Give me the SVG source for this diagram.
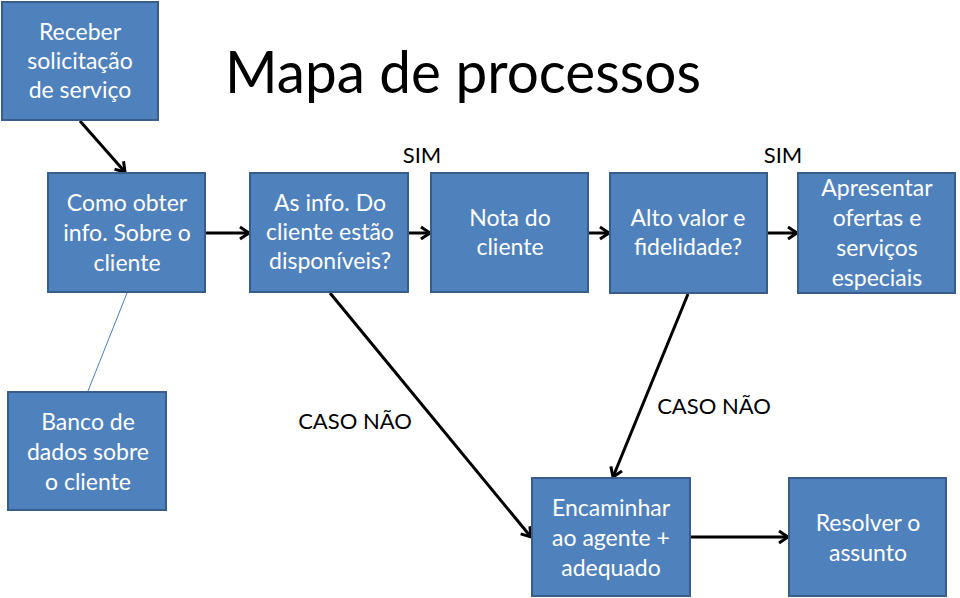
<svg xmlns="http://www.w3.org/2000/svg" width="960" height="598" viewBox="0 0 960 598">
<defs>
<style>
.box{fill:#4F81BD;stroke:#385D8A;stroke-width:2}
.bt{font-family:Lato,"Open Sans",sans-serif;font-size:23px;fill:#FFFFFF;text-anchor:middle}
.lbl{font-family:Lato,"Open Sans",sans-serif;font-size:22px;fill:#000000;text-anchor:middle}
.title{font-family:Lato,"Open Sans",sans-serif;font-size:58px;fill:#000000}
.conn{stroke:#000000;stroke-width:3;fill:none;marker-end:url(#arr)}
.thin{stroke:#4A7EBB;stroke-width:1;fill:none}
</style>
<marker id="arr" markerUnits="userSpaceOnUse" markerWidth="16" markerHeight="16" refX="12" refY="8" orient="auto">
<path d="M3,2 L12,8 L3,14" fill="none" stroke="#000000" stroke-width="3"/>
</marker>
</defs>
<rect width="960" height="598" fill="#FFFFFF"/>
<text class="title" x="225" y="93" textLength="476" lengthAdjust="spacingAndGlyphs">Mapa de processos</text>

<g id="connectors">
<line class="conn" x1="80" y1="121" x2="125" y2="172"/>
<line class="conn" x1="206" y1="233" x2="249" y2="233"/>
<line class="conn" x1="409" y1="233" x2="430" y2="233"/>
<line class="conn" x1="589" y1="233" x2="609" y2="233"/>
<line class="conn" x1="768" y1="233" x2="797" y2="233"/>
<line class="thin" x1="127" y1="293" x2="88" y2="391"/>
<line class="conn" x1="330" y1="293" x2="531" y2="537"/>
<line class="conn" x1="688" y1="294" x2="613" y2="477"/>
<line class="conn" x1="691" y1="537" x2="788" y2="537"/>
<text class="lbl" x="422" y="163">SIM</text>
<text class="lbl" x="783" y="163">SIM</text>
<text class="lbl" x="355" y="429">CASO NÃO</text>
<text class="lbl" x="714" y="414">CASO NÃO</text>
</g>

<g id="n1"><rect class="box" x="2" y="2" width="156" height="118"/>
<text class="bt" x="80" y="40">Receber</text><text class="bt" x="80" y="69">solicitação</text><text class="bt" x="80" y="98">de serviço</text></g>

<g id="n2"><rect class="box" x="48" y="173" width="157" height="119"/>
<text class="bt" x="127" y="211">Como obter</text><text class="bt" x="127" y="241">info. Sobre o</text><text class="bt" x="127" y="271">cliente</text></g>

<g id="n3"><rect class="box" x="250" y="173" width="158" height="119"/>
<text class="bt" x="330" y="211">As info. Do</text><text class="bt" x="330" y="240">cliente estão</text><text class="bt" x="330" y="269">disponíveis?</text></g>

<g id="n4"><rect class="box" x="431" y="173" width="157" height="119"/>
<text class="bt" x="510" y="226">Nota do</text><text class="bt" x="510" y="255">cliente</text></g>

<g id="n5"><rect class="box" x="610" y="173" width="157" height="120"/>
<text class="bt" x="688" y="226">Alto valor e</text><text class="bt" x="688" y="255">fidelidade?</text></g>

<g id="n6"><rect class="box" x="798" y="173" width="157" height="120"/>
<text class="bt" x="877" y="196">Apresentar</text><text class="bt" x="877" y="226">ofertas e</text><text class="bt" x="877" y="256">serviços</text><text class="bt" x="877" y="286">especiais</text></g>

<g id="n7"><rect class="box" x="8" y="392" width="158" height="118"/>
<text class="bt" x="88" y="430">Banco de</text><text class="bt" x="88" y="460">dados sobre</text><text class="bt" x="88" y="490">o cliente</text></g>

<g id="n8"><rect class="box" x="532" y="478" width="158" height="118"/>
<text class="bt" x="611" y="516">Encaminhar</text><text class="bt" x="611" y="546">ao agente +</text><text class="bt" x="611" y="576">adequado</text></g>

<g id="n9"><rect class="box" x="789" y="478" width="157" height="118"/>
<text class="bt" x="868" y="531">Resolver o</text><text class="bt" x="868" y="561">assunto</text></g>
</svg>
